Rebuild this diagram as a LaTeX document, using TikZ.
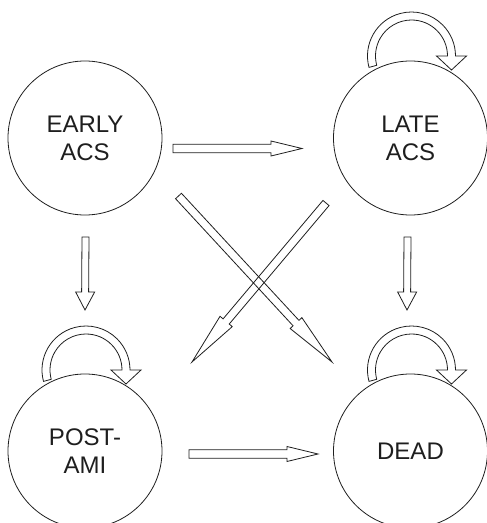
\documentclass[tikz,border=0pt]{standalone}
\usepackage{fontspec}
\setmainfont{Liberation Sans}
\usetikzlibrary{calc}
\definecolor{ink}{HTML}{1E1E1E}
\tikzset{
  state/.style={circle, draw=ink, line width=0.8pt, minimum size=154pt, inner sep=0pt,
    align=center, text=ink, font=\fontsize{24}{28}\selectfont},
  arrowline/.style={draw=ink, line width=0.8pt, line join=miter}
}
% hollow block arrow: from, to, shaft half width, head length, head half width
\newcommand{\blockarrow}[5]{%
  \coordinate (neck) at ($(#2)!#4!(#1)$);
  \draw[arrowline] ($(#1)!#3!90:(#2)$) -- ($(neck)!#3!90:(#2)$) -- ($(neck)!#5!90:(#2)$)
    -- (#2) -- ($(neck)!#5!-90:(#2)$) -- ($(neck)!#3!-90:(#2)$) -- ($(#1)!#3!-90:(#2)$) -- cycle;
}
% hollow self loop above a state, centred at a named coordinate
\newcommand{\selfloop}[1]{%
  \draw[arrowline] ([shift={(195:44)}]#1) arc[start angle=195, end angle=0, radius=44]
    -- ++(11,0) -- ++(-15,-14) -- ++(-15,14) -- ++(11,0)
    arc[start angle=0, end angle=195, radius=36] -- cycle;
}
\begin{document}
\begin{tikzpicture}[x=1pt, y=1pt]
\useasboundingbox (0,0) rectangle (487,523);
\clip (0,0) rectangle (487,523);

\node[state] (early) at (85,385) {EARLY\\ACS};
\node[state] (late) at (410.5,385) {LATE\\ACS};
\node[state] (post) at (85,72) {POST-\\AMI};
\node[state] (dead) at (410.5,72) {DEAD};

% self loops
\coordinate (lateloop) at ($(late.center)+(1,82)$);
\coordinate (postloop) at ($(post.center)+(1,81)$);
\coordinate (deadloop) at ($(dead.center)+(1,81)$);
\selfloop{lateloop}
\selfloop{postloop}
\selfloop{deadloop}

% arrow end points
\coordinate (el-s) at (173,374.5);
\coordinate (el-t) at (302,374.5);
\coordinate (pd-s) at (189,69);
\coordinate (pd-t) at (318,69);
\coordinate (ep-s) at (85.5,286);
\coordinate (ep-t) at (85,213);
\coordinate (ld-s) at (407.5,286);
\coordinate (ld-t) at (407,213);
\coordinate (ed-s) at (178.5,327);
\coordinate (ed-t) at (332,161);
\coordinate (lp-s) at (326,320);
\coordinate (lp-t) at (192,161);

\blockarrow{el-s}{el-t}{4.3pt}{31pt}{7.5pt}
\blockarrow{pd-s}{pd-t}{4.3pt}{31pt}{7.5pt}
\blockarrow{ep-s}{ep-t}{3.5pt}{18pt}{9.5pt}
\blockarrow{ld-s}{ld-t}{3.5pt}{18pt}{9.5pt}
\blockarrow{ed-s}{ed-t}{4pt}{53pt}{8pt}
\blockarrow{lp-s}{lp-t}{4pt}{53pt}{8pt}
\end{tikzpicture}
\end{document}
